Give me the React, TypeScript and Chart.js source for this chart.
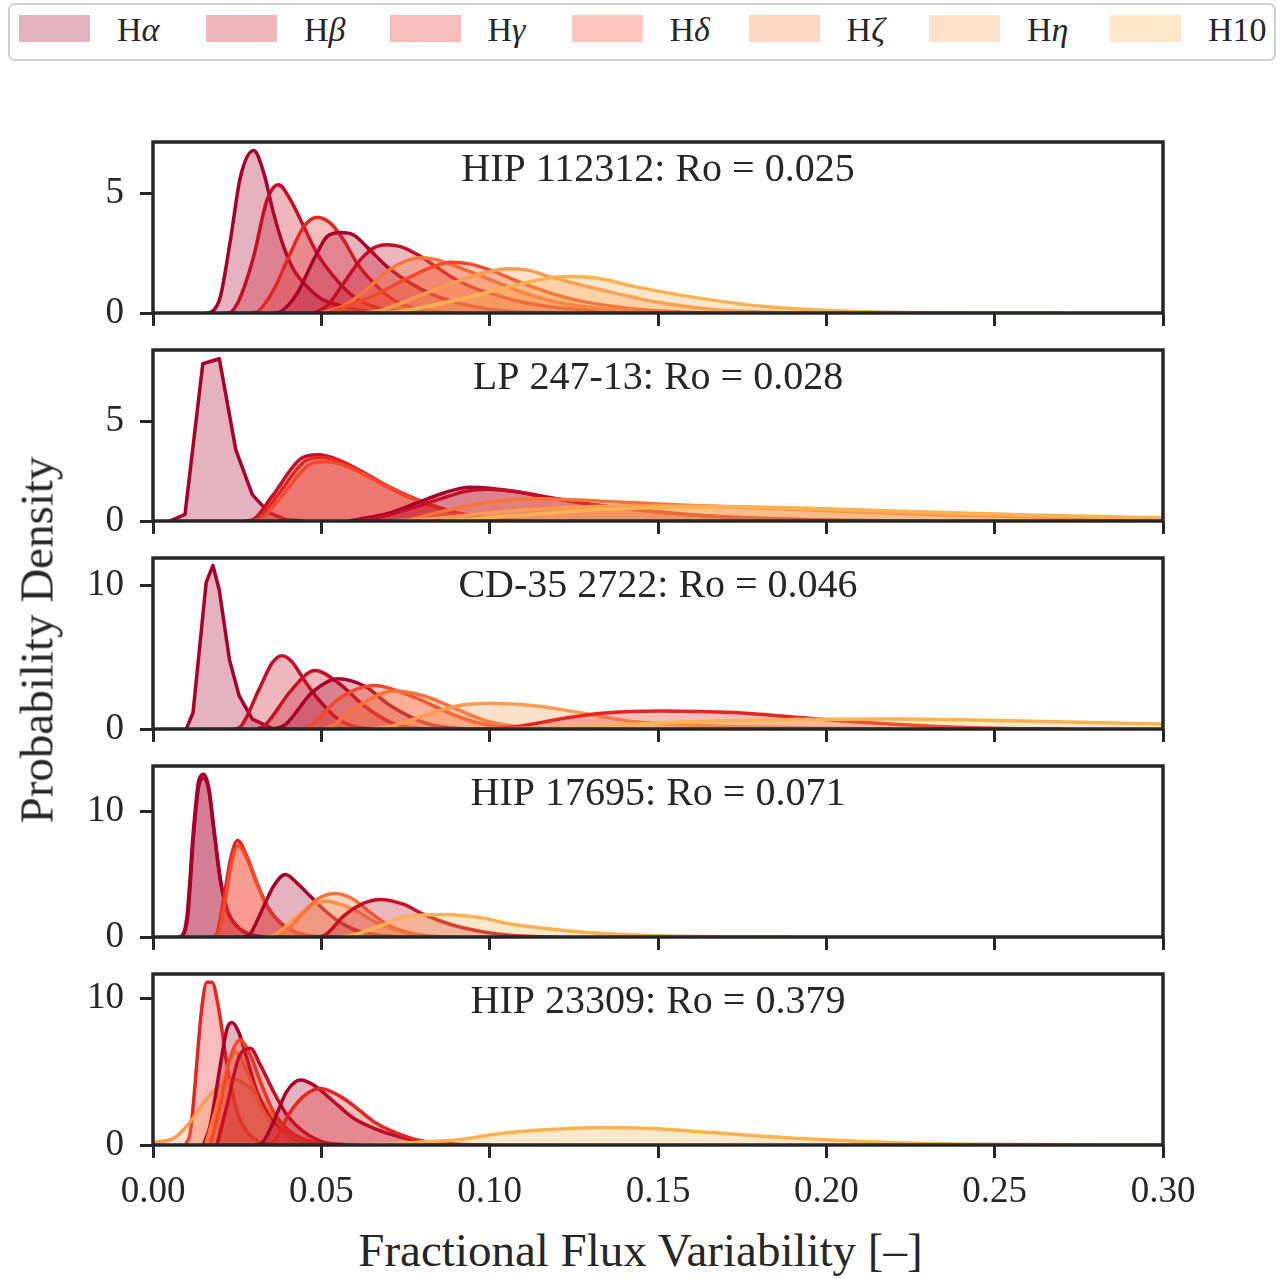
import React, { useEffect, useRef } from 'react';
import { Chart, registerables } from 'chart.js';

Chart.register(...registerables);

// ---------------- DATA ----------------
type Pt = [number, number];

const seriesNames = ['Hα', 'Hβ', 'Hγ', 'Hδ', 'Hζ', 'Hη', 'H10'];
const starTitles = [
  'HIP 112312: Ro = 0.025',
  'LP 247-13: Ro = 0.028',
  'CD-35 2722: Ro = 0.046',
  'HIP 17695: Ro = 0.071',
  'HIP 23309: Ro = 0.379',
];
const xTickValues = [0, 0.05, 0.1, 0.15, 0.2, 0.25, 0.3];
const yTickValues = [[0, 5], [0, 5], [0, 10], [0, 10], [0, 10]];
const yMaxValues = [7.14, 8.61, 11.9, 13.65, 11.66];
const xLabel = 'Fractional Flux Variability [–]';
const yLabel = 'Probability Density';

// HIP 112312
const hip112312_1: Pt[] = [[0.016,0],[0.0175,0.05],[0.02,0.68],[0.023,3.05],[0.026,5.7],[0.0299,6.79],[0.0329,5.85],[0.0358,4.17],[0.0388,2.77],[0.0418,1.8],[0.0458,1.1],[0.0497,0.62],[0.0557,0.3],[0.062,0.1],[0.07,0.02],[0.08,0]];
const hip112312_2: Pt[] = [[0.022,0],[0.0233,0.05],[0.026,0.68],[0.0299,2.36],[0.0339,4.73],[0.0373,5.36],[0.0408,4.73],[0.0448,3.61],[0.0487,2.5],[0.0537,1.52],[0.0596,0.68],[0.0656,0.26],[0.0735,0.05],[0.085,0]];
const hip112312_3: Pt[] = [[0.029,0],[0.0309,0.05],[0.0358,0.96],[0.0408,2.5],[0.0448,3.61],[0.0487,4.0],[0.0527,3.75],[0.0566,3.05],[0.0606,2.08],[0.0656,1.24],[0.0715,0.54],[0.0784,0.17],[0.0853,0.04],[0.095,0]];
const hip112312_4: Pt[] = [[0.036,0],[0.0378,0.05],[0.0428,0.82],[0.0477,2.22],[0.0517,3.19],[0.0557,3.36],[0.0596,3.26],[0.0636,2.75],[0.0695,1.94],[0.0765,1.24],[0.0834,0.75],[0.0933,0.33],[0.105,0.08],[0.12,0]];
const hip112312_5: Pt[] = [[0.048,0],[0.0517,0.3],[0.0566,1.24],[0.0616,2.22],[0.0656,2.72],[0.0695,2.85],[0.0735,2.77],[0.0784,2.45],[0.0834,2.0],[0.0893,1.45],[0.0953,1.05],[0.102,0.75],[0.1082,0.5],[0.118,0.26],[0.1333,0.08],[0.15,0]];
const hip112312_6: Pt[] = [[0.05,0],[0.0566,0.3],[0.0636,1.0],[0.0695,1.75],[0.0755,2.2],[0.0794,2.31],[0.0834,2.25],[0.09,1.95],[0.1,1.4],[0.11,0.85],[0.12,0.45],[0.135,0.15],[0.15,0.04],[0.165,0]];
const hip112312_7: Pt[] = [[0.052,0],[0.055,0.15],[0.0648,0.68],[0.0746,1.38],[0.0834,1.95],[0.0884,2.12],[0.094,2.05],[0.1,1.8],[0.1098,1.24],[0.1236,0.61],[0.1373,0.26],[0.153,0.06],[0.17,0]];
const hip112312_8: Pt[] = [[0.063,0],[0.0687,0.15],[0.0785,0.68],[0.0902,1.31],[0.099,1.7],[0.105,1.85],[0.111,1.8],[0.1177,1.52],[0.1333,0.96],[0.149,0.47],[0.1667,0.15],[0.185,0.03],[0.2,0]];
const hip112312_9: Pt[] = [[0.068,0],[0.0746,0.1],[0.0902,0.54],[0.1059,1.1],[0.116,1.42],[0.1236,1.52],[0.132,1.45],[0.1431,1.1],[0.1627,0.61],[0.1823,0.26],[0.2118,0.05],[0.241,0.01],[0.27,0]];

// LP 247-13
const lp247_1: Pt[] = [[0.005,0],[0.0095,0.33],[0.0148,7.92],[0.0197,8.17],[0.0246,3.58],[0.0295,1.33],[0.0344,0.42],[0.0393,0.08],[0.045,0]];
const lp247_2: Pt[] = [[0.027,0],[0.0295,0.05],[0.0354,1.25],[0.0442,3.17],[0.0491,3.33],[0.055,3.08],[0.0628,2.42],[0.0707,1.67],[0.0785,1.08],[0.0883,0.5],[0.1,0.1],[0.11,0]];
const lp247_3: Pt[] = [[0.028,0],[0.031,0.1],[0.037,1.3],[0.045,3.0],[0.05,3.2],[0.0555,3.0],[0.063,2.35],[0.071,1.6],[0.079,1.0],[0.089,0.45],[0.1,0.1],[0.11,0]];
const lp247_4: Pt[] = [[0.029,0],[0.032,0.1],[0.038,1.2],[0.046,2.8],[0.051,3.0],[0.056,2.85],[0.064,2.25],[0.072,1.55],[0.08,0.95],[0.09,0.42],[0.101,0.1],[0.112,0]];
const lp247_5: Pt[] = [[0.058,0],[0.0609,0.08],[0.0707,0.42],[0.0785,0.92],[0.087,1.45],[0.0942,1.7],[0.1,1.65],[0.1098,1.42],[0.1236,1.0],[0.1431,0.58],[0.1627,0.28],[0.1918,0.08],[0.22,0]];
const lp247_6: Pt[] = [[0.06,0],[0.065,0.1],[0.075,0.55],[0.085,1.1],[0.093,1.5],[0.099,1.6],[0.106,1.52],[0.117,1.2],[0.13,0.85],[0.15,0.45],[0.17,0.2],[0.2,0.05],[0.23,0]];
const lp247_7: Pt[] = [[0.075,0],[0.0844,0.42],[0.0981,0.92],[0.107,1.08],[0.1138,1.12],[0.1333,1.0],[0.153,0.83],[0.192,0.58],[0.231,0.33],[0.27,0.17],[0.3,0.1]];
const lp247_8: Pt[] = [[0.07,0],[0.08,0.08],[0.1,0.4],[0.12,0.65],[0.14,0.75],[0.16,0.75],[0.19,0.62],[0.22,0.45],[0.25,0.3],[0.3,0.13]];
const lp247_9: Pt[] = [[0.08,0],[0.09,0.05],[0.11,0.3],[0.13,0.55],[0.15,0.68],[0.17,0.72],[0.2,0.62],[0.23,0.45],[0.26,0.3],[0.3,0.15]];

// CD-35 2722
const cd35_1: Pt[] = [[0.0099,0],[0.0119,1.15],[0.0158,10.2],[0.0178,11.38],[0.0197,9.66],[0.0227,4.83],[0.0256,2.3],[0.0295,0.69],[0.0354,0.05],[0.04,0]];
const cd35_2: Pt[] = [[0.024,0],[0.0256,0.08],[0.0315,2.76],[0.0354,4.6],[0.0383,5.1],[0.0412,4.7],[0.0452,3.3],[0.0491,2.07],[0.055,0.69],[0.0628,0.05],[0.07,0]];
const cd35_3: Pt[] = [[0.031,0],[0.0334,0.3],[0.0413,2.76],[0.0481,4.07],[0.055,3.22],[0.0628,1.6],[0.0707,0.45],[0.0785,0.05],[0.085,0]];
const cd35_4: Pt[] = [[0.036,0],[0.0393,0.3],[0.0472,2.53],[0.055,3.5],[0.0628,2.99],[0.0707,1.6],[0.0805,0.45],[0.0903,0.05],[0.1,0]];
const cd35_5: Pt[] = [[0.044,0],[0.0472,0.3],[0.055,2.07],[0.0658,3.03],[0.0766,2.3],[0.0863,1.3],[0.092,0.75],[0.0981,0.35],[0.11,0.05],[0.12,0]];
const cd35_6: Pt[] = [[0.05,0],[0.053,0.2],[0.0609,1.6],[0.0716,2.64],[0.0805,2.3],[0.0902,1.38],[0.1,0.5],[0.1138,0.05],[0.125,0]];
const cd35_7: Pt[] = [[0.065,0],[0.0707,0.2],[0.0805,0.92],[0.0902,1.6],[0.1,1.79],[0.1138,1.6],[0.1294,1.03],[0.1431,0.5],[0.157,0.3],[0.175,0.15],[0.2,0.05],[0.22,0]];
const cd35_8: Pt[] = [[0.1,0],[0.1059,0.1],[0.1236,0.8],[0.1333,1.1],[0.151,1.26],[0.1725,1.15],[0.192,0.8],[0.2117,0.45],[0.2313,0.2],[0.251,0.05],[0.27,0]];
const cd35_9: Pt[] = [[0.1,0],[0.12,0.1],[0.14,0.3],[0.16,0.5],[0.19,0.66],[0.2215,0.7],[0.25,0.6],[0.275,0.47],[0.3,0.35]];

// HIP 17695
const hip17695_1: Pt[] = [[0.0075,0],[0.0086,0.1],[0.0101,1.67],[0.0121,8.8],[0.0136,12.5],[0.015,13.0],[0.0165,12.0],[0.018,8.8],[0.02,4.58],[0.022,2.2],[0.025,0.87],[0.029,0.2],[0.033,0]];
const hip17695_2: Pt[] = [[0.0078,0],[0.0088,0.1],[0.0103,1.6],[0.0122,8.6],[0.0137,12.2],[0.0151,12.7],[0.0166,11.7],[0.0181,8.5],[0.0201,4.4],[0.0221,2.1],[0.0251,0.8],[0.029,0.18],[0.033,0]];
const hip17695_3: Pt[] = [[0.0175,0],[0.019,0.26],[0.021,3.0],[0.023,6.17],[0.0251,7.7],[0.0279,6.43],[0.0309,4.3],[0.0339,2.46],[0.0378,1.14],[0.0428,0.33],[0.0487,0.03],[0.055,0]];
const hip17695_4: Pt[] = [[0.018,0],[0.0195,0.3],[0.0215,3.0],[0.0233,5.9],[0.0253,7.3],[0.028,6.2],[0.031,4.2],[0.034,2.4],[0.038,1.1],[0.043,0.32],[0.049,0.03],[0.055,0]];
const hip17695_5: Pt[] = [[0.027,0],[0.0289,0.26],[0.0329,2.46],[0.0358,4.05],[0.0393,4.98],[0.0428,4.3],[0.0467,3.25],[0.0507,2.2],[0.0557,1.14],[0.0617,0.4],[0.0686,0.1],[0.075,0]];
const hip17695_6: Pt[] = [[0.034,0],[0.0368,0.26],[0.0428,1.67],[0.047,2.5],[0.0512,2.86],[0.0586,2.33],[0.0665,1.14],[0.0745,0.33],[0.083,0.05],[0.09,0]];
const hip17695_7: Pt[] = [[0.036,0],[0.0388,0.26],[0.0438,1.67],[0.0487,3.0],[0.0542,3.47],[0.0596,3.0],[0.0646,1.94],[0.0705,0.87],[0.0784,0.2],[0.087,0]];
const hip17695_8: Pt[] = [[0.048,0],[0.0507,0.1],[0.0566,1.67],[0.0626,2.7],[0.0675,3.0],[0.0745,2.6],[0.0804,1.8],[0.0884,1.0],[0.0983,0.4],[0.108,0.1],[0.12,0]];
const hip17695_9: Pt[] = [[0.055,0],[0.0586,0.1],[0.0686,1.0],[0.0745,1.6],[0.0864,1.8],[0.0983,1.5],[0.1059,1.05],[0.1236,0.48],[0.143,0.15],[0.17,0.02],[0.19,0]];

// HIP 23309
const hip23309_1: Pt[] = [[0.0096,0],[0.0111,0.9],[0.0146,9.54],[0.016,11.09],[0.0175,11.09],[0.0195,9.32],[0.022,5.45],[0.025,2.27],[0.0279,0.9],[0.0319,0.2],[0.036,0]];
const hip23309_2: Pt[] = [[0,0.18],[0.0061,0.45],[0.0111,1.59],[0.016,3.18],[0.02,4.09],[0.0245,4.43],[0.0289,3.86],[0.0339,2.5],[0.0388,1.14],[0.0457,0.3],[0.0517,0.1],[0.06,0]];
const hip23309_3: Pt[] = [[0.015,0],[0.017,1.36],[0.02,5.45],[0.022,7.95],[0.0235,8.36],[0.0254,7.72],[0.0279,5.91],[0.0309,3.64],[0.0349,1.82],[0.0398,0.7],[0.0457,0.1],[0.05,0]];
const hip23309_4: Pt[] = [[0.0156,0],[0.019,2.73],[0.022,5.3],[0.0245,6.32],[0.0279,5.0],[0.0319,2.73],[0.0358,1.36],[0.0418,0.45],[0.048,0.1],[0.055,0]];
const hip23309_5: Pt[] = [[0.017,0],[0.02,2.73],[0.0229,5.91],[0.0259,7.16],[0.0289,6.14],[0.0319,4.32],[0.0358,2.27],[0.0408,0.9],[0.0477,0.2],[0.055,0]];
const hip23309_6: Pt[] = [[0.019,0],[0.022,2.73],[0.0254,5.91],[0.0289,6.59],[0.0319,5.45],[0.0358,3.64],[0.0398,2.05],[0.0448,0.9],[0.0507,0.2],[0.057,0]];
const hip23309_7: Pt[] = [[0.03,0],[0.0319,0.05],[0.0358,1.59],[0.0397,3.64],[0.0438,4.43],[0.0477,4.09],[0.0537,2.95],[0.0596,1.82],[0.0656,1.14],[0.0735,0.55],[0.0814,0.2],[0.0903,0.05],[0.1,0]];
const hip23309_8: Pt[] = [[0.033,0],[0.0358,0.2],[0.0408,2.27],[0.0457,3.5],[0.0497,3.86],[0.0557,3.3],[0.0606,2.5],[0.0656,1.59],[0.0715,0.9],[0.0794,0.3],[0.0893,0.05],[0.1,0]];
const hip23309_9: Pt[] = [[0.06,0],[0.07,0.08],[0.0844,0.27],[0.09,0.35],[0.104,0.8],[0.1151,1.02],[0.1333,1.2],[0.15,1.1],[0.1627,0.9],[0.1921,0.45],[0.221,0.16],[0.25,0.05],[0.28,0.01],[0.3,0]];

// which line each curve belongs to (index into seriesNames)
type Curve = { s: number; d: Pt[]; sharp?: boolean };
const panelCurves: Curve[][] = [
  [
    { s: 0, d: hip112312_1 }, { s: 1, d: hip112312_2 }, { s: 2, d: hip112312_3 },
    { s: 0, d: hip112312_4 }, { s: 1, d: hip112312_5 }, { s: 4, d: hip112312_6 },
    { s: 3, d: hip112312_7 }, { s: 5, d: hip112312_8 }, { s: 6, d: hip112312_9 },
  ],
  [
    { s: 0, d: lp247_1, sharp: true }, { s: 1, d: lp247_2 }, { s: 2, d: lp247_3 },
    { s: 3, d: lp247_4 }, { s: 0, d: lp247_5 }, { s: 1, d: lp247_6 },
    { s: 4, d: lp247_7 }, { s: 5, d: lp247_8 }, { s: 6, d: lp247_9 },
  ],
  [
    { s: 0, d: cd35_1, sharp: true }, { s: 1, d: cd35_2 }, { s: 1, d: cd35_3 },
    { s: 0, d: cd35_4 }, { s: 3, d: cd35_5 }, { s: 4, d: cd35_6 },
    { s: 5, d: cd35_7 }, { s: 2, d: cd35_8 }, { s: 6, d: cd35_9 },
  ],
  [
    { s: 0, d: hip17695_1 }, { s: 0, d: hip17695_2 }, { s: 2, d: hip17695_3 },
    { s: 3, d: hip17695_4 }, { s: 0, d: hip17695_5 }, { s: 5, d: hip17695_6 },
    { s: 4, d: hip17695_7 }, { s: 1, d: hip17695_8 }, { s: 6, d: hip17695_9 },
  ],
  [
    { s: 2, d: hip23309_1 }, { s: 5, d: hip23309_2 }, { s: 0, d: hip23309_3 },
    { s: 4, d: hip23309_4 }, { s: 3, d: hip23309_5 }, { s: 1, d: hip23309_6 },
    { s: 0, d: hip23309_7 }, { s: 2, d: hip23309_8 }, { s: 6, d: hip23309_9 },
  ],
];

// ---------------- STYLE ----------------
const lineRGB: [number, number, number][] = [
  [168, 2, 42], [198, 15, 38], [228, 38, 35], [245, 72, 38], [248, 115, 58], [252, 155, 82], [253, 177, 80],
];
const rgb = (c: number[]) => `rgb(${c[0]},${c[1]},${c[2]})`;
const rgba = (c: number[], a: number) => `rgba(${c[0]},${c[1]},${c[2]},${a})`;
const INK = '#262626';
const FONT = '"Liberation Serif", "Times New Roman", serif';
const FIG_W = 1281;
const AREA_LEFT = 153;
const AREA_RIGHT = 1163;
const AREA_H = 171;
const PAD_TOP = 20;
const panelTops = [142, 350, 558, 766, 974];
const legendPatchLefts = [19, 206, 389.5, 571.5, 748.6, 929, 1110];

const framePlugin = {
  id: 'frame',
  afterDatasetsDraw(chart: any, _args: any, opts: any) {
    const { ctx, chartArea: a } = chart;
    ctx.save();
    ctx.strokeStyle = INK;
    ctx.lineWidth = 3.5;
    ctx.strokeRect(a.left, a.top, a.right - a.left, a.bottom - a.top);
    ctx.fillStyle = INK;
    ctx.font = `40px ${FONT}`;
    ctx.textAlign = 'center';
    ctx.textBaseline = 'alphabetic';
    ctx.fillText(opts.text, (a.left + a.right) / 2, a.top + 39);
    ctx.restore();
  },
};

function Panel({ index }: { index: number }) {
  const ref = useRef<HTMLCanvasElement>(null);
  const isLast = index === panelCurves.length - 1;
  const xAxisH = isLast ? 60 : 20;
  const canvasH = PAD_TOP + AREA_H + xAxisH;

  useEffect(() => {
    const curves = panelCurves[index];
    const n = curves.length;
    const chart = new Chart(ref.current as HTMLCanvasElement, {
      type: 'line',
      data: {
        datasets: curves.map((c, i) => ({
          label: seriesNames[c.s],
          data: c.d.map(([x, y]) => ({ x, y })),
          borderColor: rgb(lineRGB[c.s]),
          backgroundColor: rgba(lineRGB[c.s], 0.3),
          borderWidth: 3.5,
          pointRadius: 0,
          pointHoverRadius: 0,
          fill: 'origin',
          cubicInterpolationMode: c.sharp ? 'default' : 'monotone',
          tension: 0,
          borderJoinStyle: 'round',
          order: n - i,
        })),
      } as any,
      options: {
        responsive: false,
        animation: false,
        devicePixelRatio: 1,
        events: [],
        layout: { padding: { left: 0, right: FIG_W - AREA_RIGHT, top: PAD_TOP, bottom: 0 } },
        plugins: {
          legend: { display: false },
          tooltip: { enabled: false },
          frame: { text: starTitles[index] },
        } as any,
        scales: {
          x: {
            type: 'linear',
            min: 0,
            max: 0.3,
            afterBuildTicks: (s: any) => { s.ticks = xTickValues.map((v) => ({ value: v })); },
            afterFit: (s: any) => { s.height = xAxisH; s.paddingLeft = 0; s.paddingRight = 0; },
            grid: { drawOnChartArea: false, drawTicks: true, tickLength: 13, tickWidth: 3, tickColor: INK },
            border: { display: false },
            ticks: {
              display: isLast,
              padding: 12,
              autoSkip: false,
              maxRotation: 0,
              color: INK,
              font: { family: FONT, size: 37 },
              callback: (v: any) => Number(v).toFixed(2),
            },
          },
          y: {
            type: 'linear',
            min: 0,
            max: yMaxValues[index],
            afterBuildTicks: (s: any) => { s.ticks = yTickValues[index].map((v) => ({ value: v })); },
            afterFit: (s: any) => { s.width = AREA_LEFT; s.paddingTop = 0; s.paddingBottom = 0; },
            grid: { drawOnChartArea: false, drawTicks: true, tickLength: 13, tickWidth: 3, tickColor: INK },
            border: { display: false },
            ticks: {
              padding: 16,
              color: INK,
              font: { family: FONT, size: 37 },
              callback: (v: any) => String(v),
            },
          },
        },
      } as any,
      plugins: [framePlugin as any],
    });
    return () => chart.destroy();
  }, [index]);

  return (
    <canvas
      ref={ref}
      width={FIG_W}
      height={canvasH}
      style={{ position: 'absolute', left: 0, top: panelTops[index] - PAD_TOP, width: FIG_W, height: canvasH, display: 'block' }}
    />
  );
}

function LegendLabel({ name }: { name: string }) {
  const rest = name.slice(1);
  const isGreek = /[^0-9]/.test(rest);
  return (
    <span>
      H{isGreek ? <i>{rest}</i> : rest}
    </span>
  );
}

export default function App() {
  return (
    <div style={{ position: 'absolute', left: 0, top: 0, width: FIG_W, height: 1279, background: '#fff', fontFamily: FONT, color: INK }}>
      {/* legend */}
      <div style={{ position: 'absolute', left: 8, top: 3, width: 1264, height: 54, border: '2px solid #cfcfcf', borderRadius: 7, boxSizing: 'content-box' }} />
      {seriesNames.map((name, i) => (
        <React.Fragment key={name}>
          <div style={{ position: 'absolute', left: legendPatchLefts[i], top: 15, width: 71, height: 27, background: rgba(lineRGB[i], 0.3) }} />
          <div style={{ position: 'absolute', left: legendPatchLefts[i] + 98, top: 30, transform: 'translateY(-50%)', fontSize: 34, lineHeight: 1, whiteSpace: 'nowrap' }}>
            <LegendLabel name={name} />
          </div>
        </React.Fragment>
      ))}
      {panelCurves.map((_, i) => <Panel key={i} index={i} />)}
      <div style={{ position: 'absolute', left: 640.5, top: 1250, transform: 'translate(-50%, -50%)', fontSize: 47, lineHeight: 1, whiteSpace: 'nowrap' }}>{xLabel}</div>
      <div style={{ position: 'absolute', left: 37, top: 640, transform: 'translate(-50%, -50%) rotate(-90deg)', fontSize: 47, lineHeight: 1, whiteSpace: 'nowrap' }}>{yLabel}</div>
    </div>
  );
}
